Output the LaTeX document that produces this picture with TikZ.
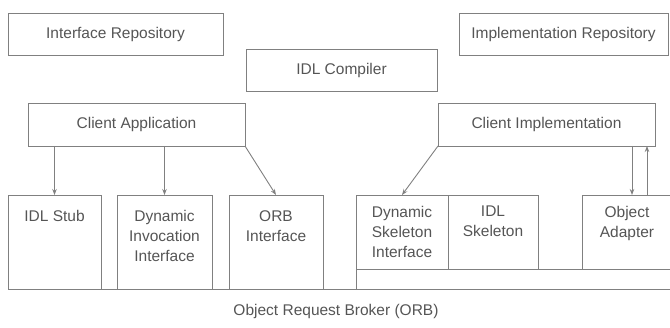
\documentclass[tikz,border=0pt]{standalone}
\usepackage{fontspec}
\setmainfont{Liberation Sans}
\usetikzlibrary{arrows.meta,positioning,calc}
\definecolor{corbaline}{RGB}{128,128,128}
\definecolor{corbatext}{RGB}{85,85,85}

\begin{document}
\begin{tikzpicture}[x=1pt, y=-1pt,
    box/.style={rectangle, draw=corbaline, line width=0.9pt, inner sep=0pt, outer sep=0pt, anchor=north west,
                font=\fontsize{15.5}{20}\selectfont, text=corbatext},
    lbl/.style={anchor=north, align=center, inner sep=0pt, font=\fontsize{15.5}{20}\selectfont, text=corbatext},
    client/.style={box, minimum width=#1, minimum height=42},
    comp/.style={box, minimum width=94, minimum height=94},
    skel/.style={box, minimum width=91, minimum height=74},
    arr/.style={draw=corbaline, line width=0.9pt, -{Stealth[length=6pt,width=4.5pt]}}
]
    \useasboundingbox (0,0) rectangle (670,328);
    % repositories and compiler
    \node[client=215] (ifr) at (8,13) {Interface Repository};
    \node[client=191] (idlc) at (246,49) {IDL Compiler};
    \node[client=209] (impr) at (459,13) {Implementation Repository};
    \node[client=217, minimum height=43] (app) at (28,103) {Client Application};
    \node[client=217, minimum height=43] (impl) at (438,103) {Client Implementation};
    % client side
    \node[comp, minimum width=93, label={[lbl, yshift=-15]north:IDL Stub}] (stub) at (8,195) {};
    \node[comp, minimum width=95, label={[lbl, yshift=-15]north:{Dynamic\\Invocation\\Interface}}] (dii) at (117,195) {};
    \node[comp, label={[lbl, yshift=-15]north:{ORB\\Interface}}] (orbi) at (229,195) {};
    % server side
    \node[skel, minimum width=92, label={[lbl, yshift=-11]north:{Dynamic\\Skeleton\\Interface}}] (dsi) at (356,195) {};
    \node[skel, minimum width=90, label={[lbl, yshift=-11]north:{IDL\\Skeleton}}] (skl) at (448,195) {};
    \node[skel, minimum width=90, label={[lbl, yshift=-11]north:{Object\\Adapter}}] (oa) at (582,195) {};
    % ORB core
    \node[box, minimum width=316, minimum height=20] (core) at (dsi.south west) {};
    \coordinate (orbend) at (672,289);
    \draw[draw=corbaline, line width=0.9pt] (stub.south west) -- (orbend);
    \node[lbl, anchor=center] (orb) at (336,311) {Object Request Broker (ORB)};
    % requests
    \draw[arr] (app.south -| stub.north) -- (stub.north);
    \draw[arr] (app.south -| dii.north) -- (dii.north);
    \draw[arr] (app.south east) -- (orbi.north);
    \draw[arr] (impl.south west) -- (dsi.north);
    \draw[arr] ($(impl.south west)+(194,0)$) -- ($(oa.north west)+(50,0)$);
    \draw[arr] ($(oa.north west)+(65,0)$) -- ($(impl.south west)+(209,0)$);
\end{tikzpicture}
\end{document}
